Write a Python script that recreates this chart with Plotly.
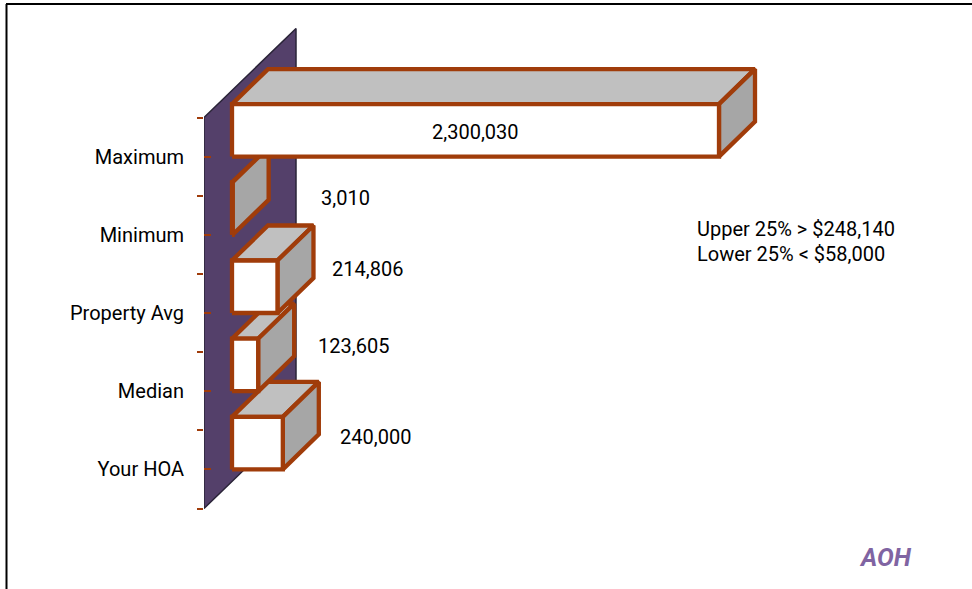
import plotly.graph_objects as go

# Categories run bottom-up so the lowest band is index 0.
categories = ["Your HOA", "Median", "Property Avg", "Minimum", "Maximum"]
values = [240000, 123605, 214806, 3010, 2300030]
value_labels = ["240,000", "123,605", "214,806", "3,010", "2,300,030"]
notes = ["Upper 25% > $248,140", "Lower 25% < $58,000"]
brand = "AOH"

# Pixel-per-unit scales and the page placement of the value/band origin.
W, H = 972, 589
PX_PER_VALUE = 487 / 2300030
PX_PER_BAND = 78.2
ORIGIN_X, ORIGIN_Y = 232, 508.5
WALL_X = 204

FONT = "Roboto, Liberation Sans, Arial, sans-serif"
FONT_SIZE = 20
STROKE = "#A03C0A"
TOP_FILL = "#C0C0C0"
SIDE_FILL = "#A6A6A6"
WALL_FILL = "#54406A"


def dx(px):
    return px / PX_PER_VALUE


def dy(px):
    return px / PX_PER_BAND


BAR_HEIGHT = dy(52.5)
BAR_DX, BAR_DY = dx(36), dy(35)
WALL_DX, WALL_DY = dx(92), dy(89)
WALL_LEFT = dx(WALL_X - ORIGIN_X)


def face(xs, ys, fill, name):
    return go.Scatter(
        x=xs, y=ys, mode="lines", fill="toself", fillcolor=fill,
        line=dict(color=STROKE, width=4.3), hoverinfo="skip",
        showlegend=False, name=name, cliponaxis=False,
    )


fig = go.Figure()

# Back wall of the 3D frame, then its dark edge.
n = len(categories)
wall_x = [WALL_LEFT, WALL_LEFT + WALL_DX, WALL_LEFT + WALL_DX, WALL_LEFT, WALL_LEFT]
wall_y = [n, n + WALL_DY, WALL_DY, 0, n]
fig.add_trace(go.Scatter(
    x=wall_x, y=wall_y, mode="lines", fill="toself", fillcolor=WALL_FILL,
    line=dict(color="#2A2438", width=1.5), hoverinfo="skip",
    showlegend=False, cliponaxis=False,
))

# Bars are stacked so that each higher band paints over the one below it.
for i, v in enumerate(values):
    y0 = i + 0.5
    y1 = y0 + BAR_HEIGHT
    fig.add_trace(face(
        [0, BAR_DX, v + BAR_DX, v, 0],
        [y1, y1 + BAR_DY, y1 + BAR_DY, y1, y1],
        TOP_FILL, "top",
    ))
    fig.add_trace(face(
        [v, v + BAR_DX, v + BAR_DX, v, v],
        [y0, y0 + BAR_DY, y1 + BAR_DY, y1, y0],
        SIDE_FILL, "side",
    ))
    fig.add_trace(face([0, v, v, 0, 0], [y0, y0, y1, y1, y0], "#FFFFFF", "front"))

# Hand-placed value labels: pixel shifts from each bar's lower right corner.
label_shift = [(55, 32), (58, 45), (52.5, 44), (86, 37), (-244, 25)]
annotations = []
for i, (v, text, (sx, sy)) in enumerate(zip(values, value_labels, label_shift)):
    centred = i == n - 1
    annotations.append(dict(
        x=v, y=i + 0.5, xref="x", yref="y", text=text, showarrow=False,
        xanchor="center" if centred else "left", yanchor="middle",
        xshift=sx, yshift=sy, font=dict(family=FONT, size=FONT_SIZE, color="#000000"),
    ))


def paper_x(px):
    return (px - WALL_X) / (W - WALL_X)


def paper_y(py):
    return 1 - py / H


for text, py in zip(notes, (229, 254)):
    annotations.append(dict(
        x=paper_x(695), y=paper_y(py), xref="paper", yref="paper", text=text,
        showarrow=False, xanchor="left", yanchor="middle",
        font=dict(family=FONT, size=FONT_SIZE, color="#000000"),
    ))
annotations.append(dict(
    x=paper_x(914), y=paper_y(557), xref="paper", yref="paper",
    text=f"<b><i>{brand}</i></b>", showarrow=False, xanchor="right", yanchor="middle",
    font=dict(family=FONT, size=25, color="#8064A2"),
))

# Outer frame along the top and left of the page.
frame = [
    dict(type="line", xref="paper", yref="paper", layer="below",
         x0=paper_x(6.5), x1=paper_x(6.5), y0=paper_y(4), y1=paper_y(H),
         line=dict(color="#000000", width=2)),
    dict(type="line", xref="paper", yref="paper", layer="below",
         x0=paper_x(6), x1=paper_x(W), y0=paper_y(4), y1=paper_y(4),
         line=dict(color="#000000", width=2)),
]

fig.update_layout(
    width=W, height=H,
    margin=dict(l=WALL_X, r=0, t=0, b=0, autoexpand=False),
    paper_bgcolor="#FFFFFF", plot_bgcolor="#FFFFFF",
    showlegend=False, annotations=annotations, shapes=frame,
    xaxis=dict(
        range=[dx(WALL_X - ORIGIN_X), dx(W - ORIGIN_X)],
        visible=False, showgrid=False, zeroline=False,
    ),
    yaxis=dict(
        range=[dy(ORIGIN_Y - H), dy(ORIGIN_Y)],
        showgrid=False, zeroline=False, showline=False,
        tickmode="array",
        tickvals=[i + 0.5 for i in range(n)], ticktext=categories,
        ticks="inside", ticklen=7, tickwidth=1.5, tickcolor=STROKE,
        ticklabelstandoff=19,
        tickfont=dict(family=FONT, size=FONT_SIZE, color="#000000"),
        minor=dict(
            tickmode="array", tickvals=list(range(n + 1)),
            ticks="outside", ticklen=6, tickwidth=1.5, tickcolor=STROKE,
            showgrid=False,
        ),
    ),
)

fig.write_html("out.html")
